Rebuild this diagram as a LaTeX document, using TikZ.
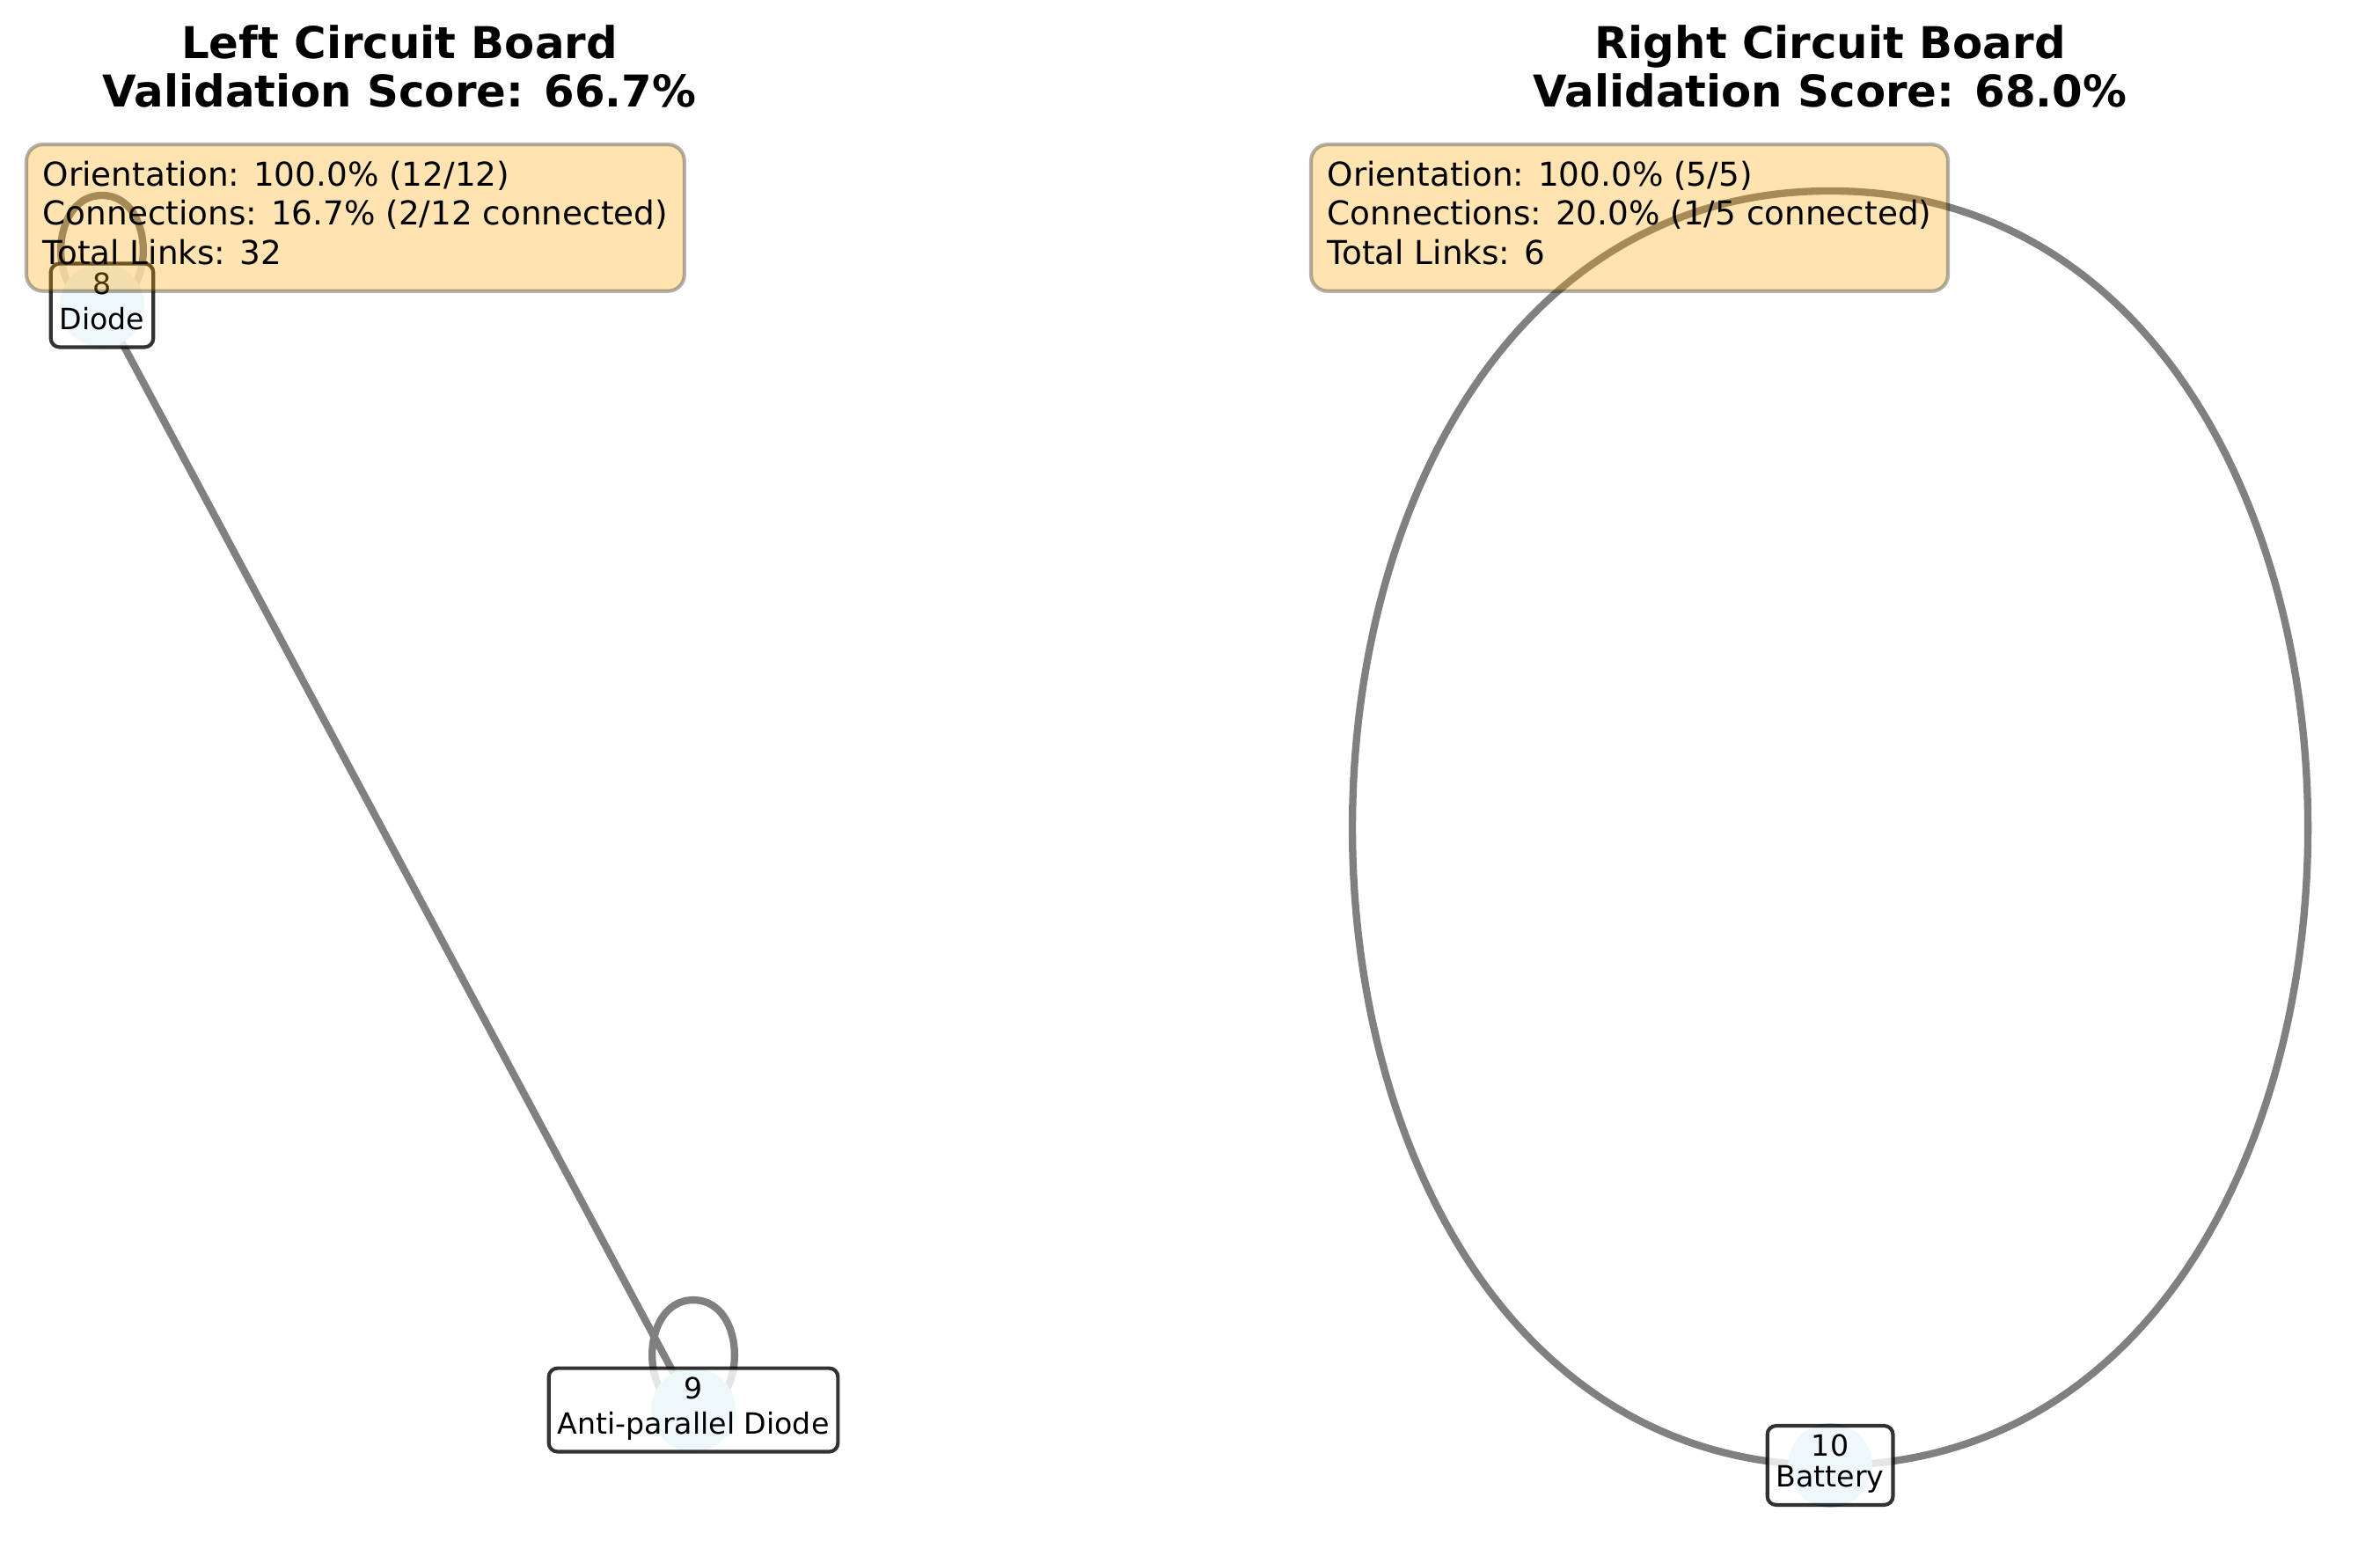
\documentclass[tikz,border=0pt]{standalone}
\usepackage{fontspec}
\setmainfont{DejaVu Sans}
\usetikzlibrary{calc,backgrounds}
\definecolor{partblue}{RGB}{173,216,230}
\definecolor{infoorange}{RGB}{255,165,0}
\begin{document}
\begin{tikzpicture}[wire/.style={draw=gray, line width=2pt},
	part/.style={circle, fill=partblue, minimum size=0.81cm, inner sep=0},
	tag/.style={rectangle, draw=black, draw opacity=0.8, fill=white, fill opacity=0.8, text opacity=1, rounded corners=2.4pt, inner sep=2.4pt, line width=1pt, align=center, font=\fontsize{8}{8.4}\selectfont},
	info/.style={rectangle, draw=black, draw opacity=0.3, fill=infoorange, fill opacity=0.3, text opacity=1, rounded corners=4.5pt, inner sep=4.5pt, line width=1pt, align=left, anchor=north west, font=\fontsize{9}{9.6}\selectfont},
	title/.style={inner sep=0, align=center, font=\fontsize{12}{13.25}\selectfont\bfseries}]
	
	\useasboundingbox (0,0) rectangle (22.902,14.961);
	
	\node (A) at (0.982,12.023) [part] {};
	\node (B) at (6.672,1.397) [part] {};
	\node (C) at (17.611,0.864) [part] {};
	
	\begin{scope}[on background layer]
		\draw[wire] (A.center) to (B.center);
		\draw[wire] (A.center) .. controls ($(A)+(-0.529,0)$) and ($(A)+(-0.529,1.058)$) .. ($(A)+(0,1.058)$) .. controls ($(A)+(0.529,1.058)$) and ($(A)+(0.529,0)$) .. (A.center);
		\draw[wire] (B.center) .. controls ($(B)+(-0.529,0)$) and ($(B)+(-0.529,1.058)$) .. ($(B)+(0,1.058)$) .. controls ($(B)+(0.529,1.058)$) and ($(B)+(0.529,0)$) .. (B.center);
		\draw[wire] (C.center) .. controls ($(C)+(-6.13,0)$) and ($(C)+(-6.13,12.26)$) .. ($(C)+(0,12.26)$) .. controls ($(C)+(6.13,12.26)$) and ($(C)+(6.13,0)$) .. (C.center);
	\end{scope}
	
	\node (At) at (A) [tag] {\strut8\\\strut Diode};
	\node (Bt) at (B) [tag] {\strut9\\\strut Anti-parallel Diode};
	\node (Ct) at (C) [tag] {\strut10\\\strut Battery};
	
	\node (I1) at (0.237,13.589) [info] {\strut Orientation: 100.0\% (12/12)\\\strut Connections: 16.7\% (2/12 connected)\\\strut Total Links: 32};
	\node (I2) at (12.598,13.589) [info] {\strut Orientation: 100.0\% (5/5)\\\strut Connections: 20.0\% (1/5 connected)\\\strut Total Links: 6};
	
	\node (T1) at (3.844,14.322) [title] {Left Circuit Board\\Validation Score: 66.7\%};
	\node (T2) at (17.611,14.322) [title] {Right Circuit Board\\Validation Score: 68.0\%};
\end{tikzpicture}
\end{document}
